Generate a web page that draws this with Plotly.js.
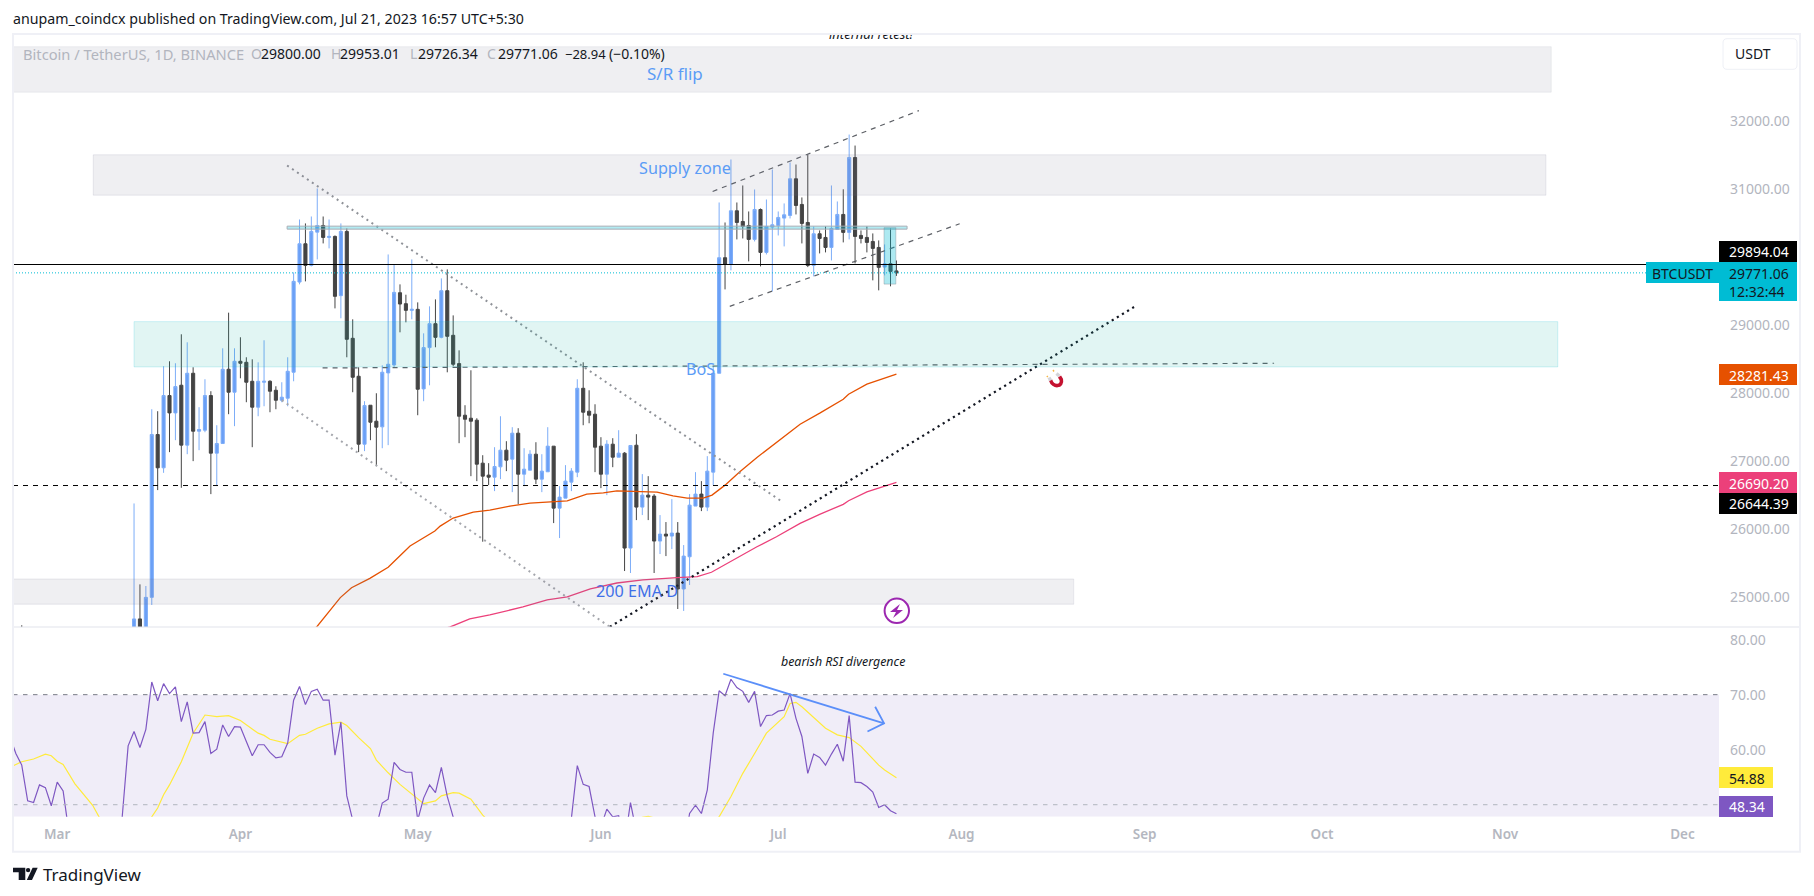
<!DOCTYPE html>
<html><head><meta charset="utf-8">
<script src="https://cdn.plot.ly/plotly-3.0.1.min.js"></script>
<style>html,body{margin:0;padding:0;background:#fff;overflow:hidden}#c{width:1814px;height:896px}</style>
</head><body><div id="c"></div>
<script>
// ---- Candles, Feb 23 then Mar 14 .. Jul 21 2023
const openMar=[24180,24500,24683,24360,25000,27394,26905,27967,27712,28119,27238,28295,27443,27458,27967,27120,27262,28354,28016];
const highMar=[24590,26381,25191,25167,27766,27737,28398,28471,28442,28868,28750,28383,27796,28207,28031,27531,28662,29186,28662];
const lowMar=[23600,24000,23900,24100,24888,26577,26831,27135,27311,26611,27105,27003,27164,27428,26518,26636,27262,27693,27517];
const closeMar=[23930,24683,24300,25000,27394,26905,27967,27712,28099,27238,28295,27443,27468,27967,27120,27262,28354,28016,28471];
const openApr=[28471,28456,28177,27796,28163,28177,28045,27898,27928,28310,29636,30199,29881,30370,30468,30292,30307,29436,30380,28809,28251,27252,27825,27590,27507,28300,28417,29479,29318,29220];
const highApr=[28824,28530,28500,28456,28780,28192,28104,28163,28530,29778,30556,30498,30600,31012,30600,30556,30321,30498,30424,29088,28383,27884,27825,28001,28412,30042,29896,29602,29450,29969];
const lowApr=[28221,27869,27208,27663,27810,27722,27766,27869,27810,28177,29602,29646,29866,29969,30204,30131,29249,29103,28530,28016,27135,27150,27311,26944,27193,27238,28388,28897,29044,29088];
const closeApr=[28442,28163,27796,28177,28177,28031,27898,27943,28324,29646,30199,29881,30380,30468,30292,30307,29426,30380,28794,28236,27252,27820,27575,27502,28310,28427,29484,29313,29220,29235];
const openMay=[29235,28065,28672,29024,28823,29509,28853,28437,27678,27634,27605,26973,26797,26767,26919,27164,27032,27414,26811,26870,27105,26738,26846,27223,26312,26459,26694,26841,28074,27737,27693];
const highMay=[29337,28882,29279,29381,29690,29822,29146,28632,27825,28339,27634,27090,26973,27208,27663,27296,27502,27487,27193,27164,27281,27105,27502,27223,26635,26944,26900,28207,28456,28045,27839];
const lowMay=[27678,27884,28118,28677,28809,28309,28398,27267,27355,26782,26709,25818,26650,26562,26738,26856,26547,26371,26635,26870,26665,26547,26846,26092,25872,26459,26562,26767,27531,27560,26841];
const closeMay=[28060,28672,29024,28823,29509,28838,28427,27663,27619,27590,26958,26782,26767,26924,27164,27017,27414,26811,26885,27105,26738,26856,27223,26312,26474,26709,26856,28074,27722,27678,27208];
const openJun=[27223,26811,27252,27061,27120,25725,27237,26327,26503,26489,25828,25930,25901,25945,25123,25597,26342,26518,26327,26841,28295,29994,29896,30684,30527,30468,30263,30703,30072,30444];
const highJun=[27355,27311,27340,27458,27135,27233,27399,26812,26782,26518,26210,26107,26444,26107,25769,26518,26841,26709,27076,28400,30806,30512,31438,30806,31056,30674,30997,30718,30850,31291];
const lowJun=[26606,26503,26914,27061,25387,25358,26136,26210,26136,25358,25637,25607,25710,24829,24800,25182,26342,26268,26268,26650,28295,29528,29808,30263,30277,29940,30233,29866,30042,29499];
const closeJun=[26811,27252,27061,27120,25725,27233,26327,26503,26474,25828,25930,25901,25945,25123,25607,26356,26518,26327,26856,28295,29994,29896,30684,30512,30454,30263,30703,30072,30454,30478];
const openJul=[30468,30576,30615,31154,30777,30512,29881,30346,30292,30145,30410,30630,30366,31467,30322,30292,30233,30145,29856,29905,29800];
const highJul=[30674,30792,31394,31364,30880,31511,30454,30395,30454,31056,30821,31000,31805,31643,30395,30454,30351,30248,30189,30424,29953.01];
const lowJul=[30321,30160,30571,30630,30204,29856,29719,30057,30072,29954,30410,30219,30263,29910,30204,30072,29661,29514,29734,29573,29726.34];
const closeJul=[30586,30625,31154,30762,30498,29881,30346,30277,30145,30424,30630,30366,31467,30307,30277,30219,30131,29852,29905,29793,29771.06];

// ---- Moving averages: day number (0 = Mar 1 2023) and price
const emaDays=[28,43.9,47.9,49.8,52.9,56,58,59.7,63.9,64.8,67,70.4,73.2,76.6,80,83.4,86.3,89.6,92.4,94.7,98.1,101.5,104.2,106.6,109.3,110.8,113,115.5,118.4,121.7,125.7,129.1,133,133.9,137,142];
const emaValues=[23700,24565,24996,25142,25280,25442,25612,25755,25975,26048,26166,26254,26283,26342,26386,26405,26420,26518,26537,26567,26552,26548,26493,26460,26460,26503,26650,26846,27057,27272,27546,27712,27913,27987,28134,28281.43];
const ema200Days=[50,66.5,69.8,73.2,78.8,82.9,86.3,90.2,94.7,99.1,104.9,108.3,110.7,114.4,118.4,121.7,125.7,129.1,133,133.9,137,142];
const ema200Values=[24200,24565,24683,24742,24859,24962,25006,25123,25211,25256,25289,25304,25369,25549,25744,25891,26088,26225,26367,26420,26552,26690.20];

// ---- RSI, daily from Feb 21 2023 (values below the pane are estimates)
const rsiFeb=[62.4,59.3,57.2,50.7,50.4,53.6,53.1,49.8];
const rsiMar=[54.1,52.5,44.8,38,38,37,36,34,30,28,32,47.8,60.7,63.3,60.4,63.7,72.3,68.9,72,70.2,71.4,65.1,68.7,63,63.1,65.1,59.3,60.1,64.5,62.4,64.2];
const rsiApr=[64.1,61.5,58.9,60.9,60.9,59.5,58.5,58.7,61.2,69,71.5,68.2,70.6,71,69,69,59,65,51.6,47.2,44,45,44.5,46,50.3,51,57.7,56.4,55.9,55.9];
const rsiMay=[47.2,51.2,53.6,52.2,56.8,51.5,48.1,44,43,42,37,35,35,36,38,37,39,36,37,39,37,38,41,34,36,38,47.5,57.1,53.7,53.3,47.8];
const rsiJun=[46,49.2,47.8,48,43,50.4,45,46,46,41,42,42,42,37,42,48.4,49.9,48.4,52.7,63,70.7,69.8,72.8,71.3,70.6,68.6,70.6,64.2,66.2,66.3];
const rsiJul=[67,67.2,70.2,65.7,62.4,55.7,59.2,58.6,57.2,59.2,61,57.9,66.2,54.1,54,53.3,52.3,49.5,50,48.9,48.34];
const rsiMaDays=[-8,-7,-6,-4,-2,-1,0,1,3,6,7,9,12,14,16,17,18,19,21,23,25,27,29,31,34,35,36,39,41,42,44,46,48,49,51,53,54,56,58,62,64,65,67,68,70,72,74,80,86,90,96,99,100,101,105,109,111,112,114,116,118,120,123,124,125,126,130,132,134,136,139,140,142];
const rsiMaValues=[56.8,57.3,57.8,58.3,59.2,58.9,57.9,57.3,53.8,49.9,48.1,44,42,44,47.8,49.4,51.8,53.6,57.8,63,66.3,66,66.2,65.3,63,62.6,61.9,61.1,62.6,62.8,63.9,64.7,65,64.4,62.2,60.2,58.1,55.8,53.7,50.2,50.7,51.6,52.2,52.1,51,48.1,46,42,44,46,46.5,47.7,47.9,47.6,45,45,47,47.8,51.5,55.7,59.3,63,66,68.4,68.6,67.8,63.9,62.7,62.2,60.6,57.2,56.3,54.88];

// ---- Drawings: day numbers and prices
const bosDays=[44.9,205.9], bosPrices=[28373,28442];
const fallUpperDays=[38.9,122.5], fallUpperPrices=[31350,26416];
const fallLowerDays=[38.0,93.5], fallLowerPrices=[27899,24566];
const trendDays=[93.5,182.2], trendPrices=[24566,29269];
const channelUpDays=[110.9,145.8], channelUpPrices=[30968,32157];
const channelLowDays=[113.8,152.7], channelLowPrices=[29279,30493];
const arrowDays=[112.7,139.9], arrowRsi=[73.8,64.8];
const arrowHeadDays=[138.4,139.9,137.1], arrowHeadRsi=[67.8,64.8,63.3];

const prevDayHigh=29894.04, prevLevel=26644.39, lastClose=29771.06;
const priceTicks=[25000,26000,27000,28000,29000,31000,32000];
const rsiTicks=[60,70,80];
const monthDays=[0,31,61,92,122,153,184,214,245,275];
const monthNames=['Mar','Apr','May','Jun','Jul','Aug','Sep','Oct','Nov','Dec'];

// ---- helpers
const T0=Date.UTC(2023,2,1);
const D=d=>new Date(T0+d*864e5).toISOString().replace('Z','');
const X=p=>p/1814, Y=p=>1-p/896;
const FONT='"Noto Sans", sans-serif';
const RIGHT=1719, LEFT=13, PANE_TOP=34, PANE_SEP=627, PANE_BOT=816.7;
const dayLeft=-7.48, dayRight=281.18;

const candleDays=[-6]; for(let d=13;d<=142;d++) candleDays.push(d);
const rsiValues=[].concat(rsiFeb,rsiMar,rsiApr,rsiMay,rsiJun,rsiJul);
const rsiDays=rsiValues.map((_,i)=>i-8);

const line=(days,vals,color,width,dash,yaxis)=>({type:'scatter',mode:'lines',x:days.map(D),y:vals,xaxis:'x',yaxis:yaxis||'y',
  line:{color,width,dash:dash||'solid',shape:'linear'},hoverinfo:'skip',showlegend:false});

const data=[
 {type:'candlestick',x:candleDays.map(D),xaxis:'x',yaxis:'y',
  open:[].concat(openMar,openApr,openMay,openJun,openJul),
  high:[].concat(highMar,highApr,highMay,highJun,highJul),
  low:[].concat(lowMar,lowApr,lowMay,lowJun,lowJul),
  close:[].concat(closeMar,closeApr,closeMay,closeJun,closeJul),
  increasing:{line:{color:'#7dadf8',width:1},fillcolor:'#6a9ff6'},
  decreasing:{line:{color:'#444444',width:1},fillcolor:'#444444'},
  whiskerwidth:0,hoverinfo:'skip',showlegend:false},
 line(emaDays,emaValues,'#e65100',1.3),
 line(ema200Days,ema200Values,'#ec407a',1.3),
 line(bosDays,bosPrices,'#5d6066',1.2,'5px,5px'),
 line(fallUpperDays,fallUpperPrices,'#8f9298',2,'2px,4px'),
 line(fallLowerDays,fallLowerPrices,'#a4a6ac',2,'2px,4px'),
 line(trendDays,trendPrices,'#131722',2.2,'2.2px,3.8px'),
 line(channelUpDays,channelUpPrices,'#5d6066',1.2,'5px,5px'),
 line(channelLowDays,channelLowPrices,'#5d6066',1.2,'5px,5px'),
 {type:'scatter',mode:'text',x:[D(137.7)],y:[33262],text:['internal retest!'],xaxis:'x',yaxis:'y',cliponaxis:true,
  textposition:'middle center',textfont:{family:FONT,size:13,color:'#131722',style:'italic'},hoverinfo:'skip',showlegend:false},
 line(rsiMaDays,rsiMaValues,'#ffeb3b',1.2,null,'y2'),
 line(rsiDays,rsiValues,'#7e57c2',1.2,null,'y2'),
 line(arrowDays,arrowRsi,'#5b8ff9',1.8,null,'y2'),
 line(arrowHeadDays,arrowHeadRsi,'#5b8ff9',1.8,null,'y2'),
];

const shapes=[];
const zone=(x0,x1,y0,y1,fill,border)=>shapes.push({type:'rect',xref:'x',yref:'y',x0:D(x0),x1:D(x1),y0,y1,fillcolor:fill,line:{color:border,width:1},layer:'above'});
zone(dayLeft,252.8,32427,33097,'rgba(120,123,150,0.12)','rgba(120,123,150,0.10)');
zone(6.1,251.9,30913,31507,'rgba(120,123,150,0.12)','rgba(120,123,150,0.14)');
zone(13,253.9,28388,29054,'rgba(20,180,165,0.13)','rgba(0,188,212,0.18)');
zone(dayLeft,172,24899,25270,'rgba(120,123,150,0.12)','rgba(120,123,150,0.14)');
zone(38.9,143.8,30414,30458,'rgba(0,188,212,0.30)','#a9adb5');
zone(139.9,141.9,29606,30435,'rgba(0,188,212,0.32)','rgba(120,123,134,0.35)');
// price levels
const hline=(p,x1,color,width,dash,yref)=>shapes.push({type:'line',xref:'paper',yref:yref||'y',x0:X(LEFT),x1:X(x1),y0:p,y1:p,line:{color,width,dash},layer:'above'});
hline(prevDayHigh,RIGHT,'#000000',1,'solid');
hline(lastClose,1646,'#00bcd4',1,'1px,2px');
hline(prevLevel,RIGHT,'#000000',1,'5px,5px');
// RSI band
shapes.push({type:'rect',xref:'paper',yref:'y2',x0:X(LEFT),x1:X(RIGHT),y0:47.8,y1:70,fillcolor:'#f0edf8',line:{width:0},layer:'below'});
hline(70,RIGHT,'#787b86',1,'4.5px,5.5px','y2');
hline(50,RIGHT,'#b2b5be',1,'4.5px,5.5px','y2');

// paper-space furniture
const rectPx=(x0,y0,x1,y1,fill,lineC,w)=>shapes.push({type:'rect',xref:'paper',yref:'paper',x0:X(x0),x1:X(x1),y0:Y(y1),y1:Y(y0),fillcolor:fill,line:{color:lineC||fill,width:w===undefined?0:w},layer:'above'});
const pathPx=(pts,close,fill,stroke,w)=>{
  let s='';for(const p of pts){s+=p[0];for(let i=1;i<p.length;i+=2){s+=(i>1?',':' ')+X(p[i])+','+Y(p[i+1]);}s+=' ';}
  if(close)s+='Z';
  shapes.push({type:'path',xref:'paper',yref:'paper',path:s,fillcolor:fill||'rgba(0,0,0,0)',line:{color:stroke||'rgba(0,0,0,0)',width:w||0},layer:'above'});};
// frame
const fr='#eff0f6';
rectPx(12,33,14,852,fr); rectPx(12,33,1801,35,fr); rectPx(1799,33,1801,852,fr); rectPx(12,850.7,1801,852.7,fr);
rectPx(14,626.5,1799,627.5,'#e2e3ec');
// USDT button
pathPx([['M',1727,38.7],['L',1793,38.7],['Q',1797,38.7,1797,43],['L',1797,65],['Q',1797,69.3,1793,69.3],['L',1727,69.3],['Q',1723,69.3,1723,65],['L',1723,43],['Q',1723,38.7,1727,38.7]],true,'#ffffff','#eef0f6',1);
// price labels
rectPx(1719,241,1797,262,'#000000');
rectPx(1646,262,1719,283,'#00bcd4');
rectPx(1719,262,1797,301,'#00bcd4');
rectPx(1719,364,1797,385,'#e65100');
rectPx(1719,472,1797,493,'#ec407a');
rectPx(1719,493,1797,514,'#000000');
rectPx(1719,767,1773,788,'#ffeb3b');
rectPx(1719,796,1773,817,'#7e57c2');
// magnet
pathPx([['M',1050.5,380],['C',1053,388,1063,387,1061.3,379.5],['L',1059.5,376.5]],false,null,'#c41230',3.6);
pathPx([['M',1049,377.5],['L',1050.6,380.5]],false,null,'#d4d4d8',3.4);
pathPx([['M',1056.5,373.5],['L',1059.3,376]],false,null,'#d4d4d8',3.4);
pathPx([['M',1046.8,376],['L',1047.8,377]],false,null,'#f5b642',1.4);
pathPx([['M',1053,370],['L',1054,371.5]],false,null,'#f5b642',1.4);
// lightning badge
shapes.push({type:'circle',xref:'paper',yref:'paper',x0:X(884.6),x1:X(909),y0:Y(623),y1:Y(598.6),fillcolor:'#ffffff',line:{color:'#9c27b0',width:2},layer:'above'});
pathPx([['M',900,604],['L',890,612],['L',896,612],['L',893,618],['L',903,610],['L',897,610]],true,'#9c27b0',null,0);
// logo
pathPx([['M',13,867.7],['L',25.3,867.7],['L',25.3,880],['L',18.7,880],['L',18.7,872.3],['L',13,872.3]],true,'#131722',null,0);
shapes.push({type:'circle',xref:'paper',yref:'paper',x0:X(25.9),x1:X(30.3),y0:Y(872.3),y1:Y(867.9),fillcolor:'#131722',line:{width:0},layer:'above'});
pathPx([['M',32.6,867.7],['L',37.7,867.7],['L',32,880],['L',26.8,880]],true,'#131722',null,0);

const ann=[];
const txt=(x,y,text,color,size,o)=>ann.push(Object.assign({xref:'paper',yref:'paper',x:X(x),y:Y(y),text,showarrow:false,xanchor:'left',yanchor:'middle',
  font:{family:FONT,size,color},borderpad:0,borderwidth:0},o||{}));
const italic=t=>'<i>'+t+'</i>';
txt(13,19,'anupam_coindcx published on TradingView.com, Jul 21, 2023 16:57 UTC+5:30','#131722',14.2);
txt(23,54,'Bitcoin / TetherUS, 1D, BINANCE','#b2b5be',14.7);
[[250.5,'O'],[330.5,'H'],[410,'L'],[487,'C']].forEach(a=>txt(a[0],54,a[1],'#b2b5be',14));
[[261,'29800.00'],[340,'29953.01'],[417.5,'29726.34'],[498,'29771.06'],[565,'−28.94'],[609,'(−0.10%)']].forEach(a=>txt(a[0],54,a[1],'#131722',a[1]==='−28.94'?13:14));
txt(1735,54,'USDT','#131722',14);
txt(674.5,74,'S/R flip','#5b9cf6',17,{xanchor:'center'});
txt(685,167.5,'Supply zone','#5b9cf6',16.2,{xanchor:'center'});
txt(700,369,'BoS','#5b9cf6',16.2,{xanchor:'center'});
txt(637,591,'200 EMA D','#3f6fe8',16.2,{xanchor:'center'});
txt(842.5,661,italic('bearish RSI divergence'),'#131722',12.4,{xanchor:'center'});
txt(1729,251.5,'29894.04','#ffffff',14);
txt(1652,273,'BTCUSDT','#131722',14);
txt(1729,273,'29771.06','#131722',14);
txt(1729,291,'12:32:44','#131722',14);
txt(1729,375,'28281.43','#ffffff',14);
txt(1729,483,'26690.20','#ffffff',14);
txt(1729,503.5,'26644.39','#ffffff',14);
txt(1729,778,'54.88','#131722',14);
txt(1729,806.5,'48.34','#ffffff',14);
txt(42.5,874.5,'TradingView','#131722',17);

const layout={width:1814,height:896,margin:{l:0,r:0,t:0,b:0},paper_bgcolor:'#ffffff',plot_bgcolor:'#ffffff',showlegend:false,dragmode:false,
 font:{family:FONT},boxgap:0.25,
 xaxis:{type:'date',domain:[X(LEFT),X(RIGHT)],range:[D(dayLeft),D(dayRight)],anchor:'y2',rangeslider:{visible:false},showgrid:false,zeroline:false,showline:false,
   tickmode:'array',tickvals:monthDays.map(D),ticktext:monthNames,ticks:'',ticklabelstandoff:8,
   tickfont:{family:FONT,size:13.5,color:'#b4b7c0',weight:600}},
 yaxis:{domain:[Y(PANE_SEP),Y(PANE_TOP)],range:[24564.2,33283.2],anchor:'x',side:'right',showgrid:false,zeroline:false,showline:false,
   tickmode:'array',tickvals:priceTicks,tickformat:'.2f',ticks:'',ticklabelstandoff:10,tickfont:{family:FONT,size:14,color:'#b2b5be'}},
 yaxis2:{domain:[Y(PANE_BOT),Y(PANE_SEP)],range:[47.82,82.3],anchor:'x',side:'right',showgrid:false,zeroline:false,showline:false,
   tickmode:'array',tickvals:rsiTicks,tickformat:'.2f',ticks:'',ticklabelstandoff:10,tickfont:{family:FONT,size:14,color:'#b2b5be'}},
 shapes,annotations:ann};
Plotly.newPlot('c',data,layout,{staticPlot:true,displayModeBar:false,responsive:false});
</script></body></html>
